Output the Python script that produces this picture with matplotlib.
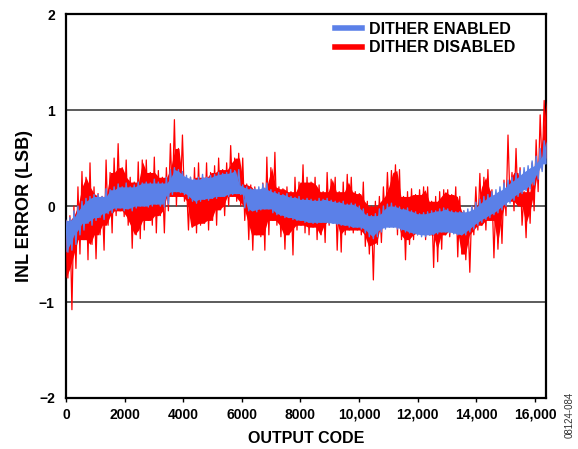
import numpy as np
import matplotlib.pyplot as plt

# envelope of each trace, read every ~136 codes (top, bottom)
red_hi = [-0.15, -0.10, 0.00, 0.20, 0.36, 0.30, 0.45, 0.20, 0.13, 0.10,
          0.48, 0.35, 0.50, 0.65, 0.40, 0.48, 0.30, 0.25, 0.46, 0.48,
          0.48, 0.35, 0.51, 0.37, 0.30, 0.40, 0.65, 0.90, 0.60, 0.74,
          0.23, 0.30, 0.40, 0.45, 0.30, 0.45, 0.35, 0.42, 0.50, 0.38,
          0.45, 0.63, 0.50, 0.55, 0.50, 0.23, 0.22, 0.20, 0.15, 0.24,
          0.51, 0.40, 0.56, 0.20, 0.18, 0.20, 0.15, 0.30, 0.25, 0.43,
          0.30, 0.25, 0.30, 0.22, 0.15, 0.35, 0.28, 0.30, 0.15, 0.25,
          0.33, 0.30, 0.15, 0.13, 0.25, 0.05, 0.00, 0.05, 0.10, 0.20,
          0.35, 0.37, 0.43, 0.38, 0.10, 0.15, 0.18, 0.12, 0.17, 0.20,
          0.20, 0.05, 0.10, 0.15, 0.17, 0.17, 0.12, 0.20, 0.10, -0.05,
          -0.10, 0.00, 0.20, 0.34, 0.30, 0.38, 0.17, 0.10, 0.15, 0.27,
          0.74, 0.35, 0.60, 0.40, 0.15, 0.30, 0.45, 0.69, 0.95, 1.10]
red_lo = [-0.75, -1.08, -0.65, -0.50, -0.35, -0.56, -0.40, -0.55, -0.30, -0.46,
          -0.20, -0.28, -0.10, -0.05, -0.11, -0.20, -0.44, -0.30, -0.34, -0.25,
          -0.15, -0.20, -0.28, -0.10, -0.28, -0.05, 0.10, 0.00, 0.10, 0.05,
          -0.25, -0.22, -0.28, -0.20, -0.18, -0.25, -0.15, -0.20, -0.04, -0.10,
          0.00, 0.10, 0.05, 0.00, -0.15, -0.35, -0.46, -0.30, -0.32, -0.46,
          -0.30, -0.15, -0.20, -0.32, -0.45, -0.30, -0.51, -0.25, -0.20, -0.28,
          -0.30, -0.22, -0.35, -0.30, -0.38, -0.20, -0.15, -0.46, -0.48, -0.30,
          -0.25, -0.28, -0.25, -0.30, -0.42, -0.50, -0.77, -0.40, -0.38, -0.20,
          -0.15, -0.10, -0.30, -0.35, -0.56, -0.40, -0.35, -0.30, -0.28, -0.35,
          -0.30, -0.64, -0.58, -0.45, -0.30, -0.32, -0.25, -0.53, -0.50, -0.56,
          -0.69, -0.30, -0.25, -0.20, -0.25, -0.15, -0.54, -0.45, -0.39, -0.10,
          0.05, -0.05, 0.00, -0.20, -0.33, -0.18, -0.05, 0.15, 0.38, 0.50]
blue_hi = [-0.15, -0.12, -0.05, 0.00, 0.05, 0.08, 0.10, 0.12, 0.12, 0.10,
           0.18, 0.17, 0.20, 0.23, 0.20, 0.24, 0.20, 0.22, 0.25, 0.24,
           0.25, 0.24, 0.28, 0.25, 0.24, 0.30, 0.38, 0.40, 0.38, 0.36,
           0.32, 0.30, 0.28, 0.30, 0.33, 0.30, 0.32, 0.33, 0.35, 0.34,
           0.35, 0.38, 0.37, 0.38, 0.22, 0.20, 0.18, 0.18, 0.20, 0.23,
           0.24, 0.17, 0.15, 0.14, 0.12, 0.13, 0.10, 0.09, 0.10, 0.07,
           0.08, 0.07, 0.06, 0.08, 0.07, 0.08, 0.06, 0.05, 0.04, 0.05,
           0.02, 0.03, 0.02, 0.00, -0.03, -0.08, -0.10, -0.08, -0.03, 0.00,
           0.02, 0.03, 0.00, -0.01, -0.03, -0.02, -0.05, -0.06, -0.08, -0.07,
           -0.06, -0.05, -0.05, -0.03, -0.02, -0.03, -0.05, -0.06, -0.06, -0.05,
           -0.03, 0.00, 0.04, 0.07, 0.10, 0.12, 0.15, 0.17, 0.20, 0.24,
           0.27, 0.30, 0.34, 0.37, 0.40, 0.42, 0.47, 0.52, 0.60, 0.68]
blue_lo = [-0.48, -0.46, -0.40, -0.30, -0.25, -0.18, -0.20, -0.15, -0.12, -0.14,
           -0.08, -0.07, -0.04, -0.02, -0.05, -0.03, -0.05, -0.02, 0.00, 0.00,
           -0.01, 0.00, 0.02, 0.00, -0.01, 0.02, 0.12, 0.15, 0.14, 0.12,
           0.08, 0.05, 0.03, 0.05, 0.07, 0.06, 0.08, 0.08, 0.10, 0.10,
           0.10, 0.12, 0.13, 0.12, -0.02, -0.05, -0.05, -0.06, -0.04, -0.03,
           -0.03, -0.07, -0.09, -0.10, -0.12, -0.12, -0.14, -0.15, -0.15, -0.17,
           -0.17, -0.18, -0.18, -0.17, -0.17, -0.18, -0.18, -0.19, -0.20, -0.20,
           -0.22, -0.22, -0.22, -0.24, -0.28, -0.32, -0.34, -0.32, -0.27, -0.24,
           -0.22, -0.22, -0.24, -0.25, -0.27, -0.28, -0.29, -0.30, -0.32, -0.32,
           -0.30, -0.30, -0.29, -0.27, -0.27, -0.28, -0.29, -0.30, -0.30, -0.30,
           -0.27, -0.24, -0.20, -0.17, -0.14, -0.12, -0.09, -0.07, -0.04, 0.00,
           0.03, 0.06, 0.10, 0.13, 0.16, 0.18, 0.22, 0.28, 0.36, 0.44]

xticks = [0, 2000, 4000, 6000, 8000, 10000, 12000, 14000, 16000]
xlabels = ['0', '2000', '4000', '6000', '8000', '10,000', '12,000', '14,000', '16,000']

RED = '#ff0000'
BLUE = '#5b80e8'


def trace(ax, hi, lo, color, lw, label, z):
    hi = np.asarray(hi)
    lo = np.asarray(lo)
    n = len(hi)
    x = np.linspace(0, 16383, n)
    # solid core: only what neighbouring readings share, spikes stick out
    core_hi = np.minimum(np.minimum(hi, np.roll(hi, 1)), np.roll(hi, -1))
    core_lo = np.maximum(np.maximum(lo, np.roll(lo, 1)), np.roll(lo, -1))
    core_hi[[0, -1]] = hi[[0, -1]]
    core_lo[[0, -1]] = lo[[0, -1]]
    ax.fill_between(x, core_lo, np.maximum(core_hi, core_lo), color=color,
                    lw=0, zorder=z)
    xz = np.linspace(0, 16383, 2 * n)
    yz = np.column_stack([hi, lo]).ravel()
    ax.plot(xz, yz, color=color, lw=lw, label=label, zorder=z)


plt.rcParams['font.family'] = ['Liberation Sans', 'DejaVu Sans']
plt.rcParams['font.weight'] = 'bold'

fig = plt.figure(figsize=(5.78, 4.49), dpi=100)
ax = fig.add_axes([0.114, 0.1136, 0.831, 0.855])

trace(ax, red_hi, red_lo, RED, 0.9, 'DITHER DISABLED', 3)
trace(ax, blue_hi, blue_lo, BLUE, 1.0, 'DITHER ENABLED', 4)

ax.set_xlim(0, 16384)
ax.set_ylim(-2, 2)
ax.set_xticks(xticks)
ax.set_xticklabels(xlabels)
ax.set_yticks([-2, -1, 0, 1, 2])
ax.set_yticklabels(['\u22122', '\u22121', '0', '1', '2'])
ax.tick_params(axis='x', length=3, width=1, direction='out', labelsize=10, pad=4)
ax.tick_params(axis='y', length=0, labelsize=10, pad=8)
for lbl in ax.get_xticklabels() + ax.get_yticklabels():
    lbl.set_fontweight('bold')

for v in [-1, 0, 1]:
    ax.axhline(v, color='#404040', lw=1.2, zorder=2)
for s in ax.spines.values():
    s.set_linewidth(1.6)

ax.set_xlabel('OUTPUT CODE', fontsize=11.5, fontweight='bold', labelpad=7)
ax.set_ylabel('INL ERROR (LSB)', fontsize=13, fontweight='bold', labelpad=4)

h, l = ax.get_legend_handles_labels()
leg = ax.legend(h[::-1], l[::-1], loc='upper right', frameon=False,
                bbox_to_anchor=(0.953, 1.0), handlelength=1.7,
                handletextpad=0.45, borderaxespad=0.1, labelspacing=0.2,
                prop={'weight': 'bold', 'size': 11.5})
for line in leg.get_lines():
    line.set_linewidth(4)

fig.text(0.985, 0.075, '08124-084', rotation=90, fontsize=7, fontweight='normal',
         color='#333333', ha='center', va='center')

fig.savefig('out.png', dpi=100)
